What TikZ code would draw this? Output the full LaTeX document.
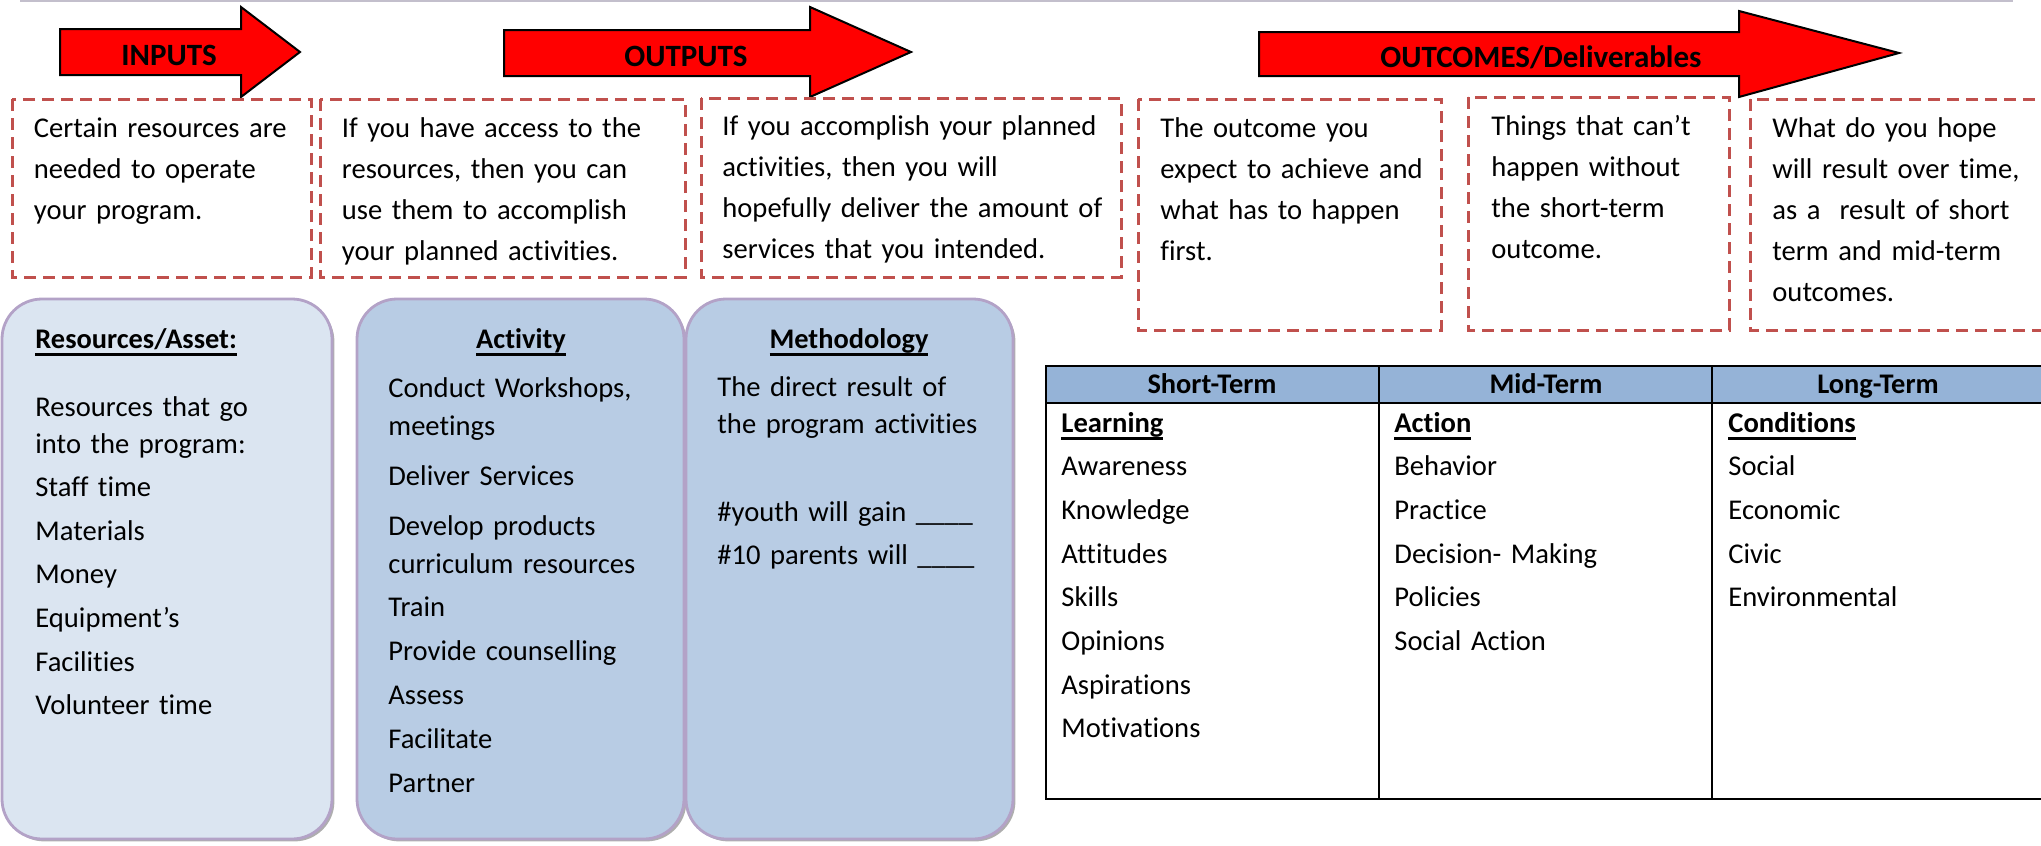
\documentclass[tikz,border=0pt]{standalone}
\usepackage{fontspec}
\setmainfont{Carlito}[Ligatures=NoCommon]
\usetikzlibrary{shadows}

\definecolor{arrowred}{HTML}{FF0000}
\definecolor{dashred}{HTML}{C0504D}
\definecolor{panelpale}{HTML}{DBE5F1}
\definecolor{panelblue}{HTML}{B8CCE4}
\definecolor{panelrim}{HTML}{B3A2C7}
\definecolor{headblue}{HTML}{95B3D7}
\definecolor{rulegray}{HTML}{C3BFCC}

\newcommand{\undl}[1]{\setbox0\hbox{#1}\leavevmode\rlap{\vrule width\wd0 height -2.6pt depth 3.8pt}\box0}

\tikzset{
  bigarrow/.style={fill=arrowred, draw=black, line width=1pt, line join=miter},
  arrowtext/.style={anchor=base, inner sep=0pt, font=\fontsize{15.5}{18}\selectfont\bfseries},
  dashbox/.style={draw=dashred, line width=1.5pt, dash pattern=on 6pt off 3.5pt},
  boxtext/.style={anchor=base west, inner sep=0pt, text width=220pt, align=left,
    font=\fontsize{14.3}{20.5}\selectfont},
  panel/.style={draw=panelrim, line width=1.4pt, rounded corners=20pt,
    drop shadow={shadow xshift=1.2pt, shadow yshift=-1.2pt, fill=black!45, opacity=0.7}},
  headtext/.style={inner sep=0pt, font=\fontsize{14.2}{17}\selectfont\bfseries},
  listtext/.style={anchor=base west, inner sep=0pt, text width=200pt, align=left,
    font=\fontsize{14.3}{#1}\selectfont},
  tablerule/.style={line width=1.3pt, line cap=rect}
}

\begin{document}
\begin{tikzpicture}[x=0.5pt, y=-0.5pt]
    \clip (0,0) rectangle (2041,846);

    % thin rule along the top
    \draw[rulegray, line width=1pt] (20,1) -- (2013,1);

    % the three red arrows
    \draw[bigarrow] (60,29) -- (241,29) -- (241,7) -- (300,52)
      -- (241,97) -- (241,75) -- (60,75) -- cycle;
    \draw[bigarrow] (504,30) -- (810,30) -- (810,7) -- (911,52)
      -- (810,97) -- (810,76) -- (504,76) -- cycle;
    \draw[bigarrow] (1259,32) -- (1739,32) -- (1739,11) -- (1899,53)
      -- (1739,97) -- (1739,76) -- (1259,76) -- cycle;

    \node[arrowtext] (inputs) at (169,65) {INPUTS};
    \node[arrowtext] (outputs) at (686,66) {OUTPUTS};
    \node[arrowtext] (outcomes) at (1541,68) {OUTCOMES/Deliverables};

    % dashed explanation boxes
    \draw[dashbox] (12,99) rectangle (311,277);
    \node[boxtext] (needs) at (33.5,137) {Certain resources are\\
      needed to operate\\ your program.};

    \draw[dashbox] (320,99) rectangle (685,277);
    \node[boxtext] (access) at (341.5,137) {If you have access to the\\
      resources, then you can\\ use them to accomplish\\ your planned activities.};

    \draw[dashbox] (701,98) rectangle (1121,277);
    \node[boxtext] (deliver) at (722,135) {If you accomplish your planned\\
      activities, then you will\\ hopefully deliver the amount of\\
      services that you intended.};

    \draw[dashbox] (1138,99) rectangle (1441,330);
    \node[boxtext] (expect) at (1160,137) {The outcome you\\
      expect to achieve and\\ what has to happen\\ first.};

    \draw[dashbox] (1468,97) rectangle (1729,330);
    \node[boxtext] (without) at (1491,135) {Things that can’t\\
      happen without\\ the short-term\\ outcome.};

    \draw[dashbox] (1750,99) rectangle (2070,330);
    \node[boxtext] (hope) at (1772,137) {What do you hope\\
      will result over time,\\ as a\ \ result of short\\
      term and mid-term\\ outcomes.};

    % rounded panels
    \draw[panel, fill=panelpale] (2,299) rectangle (332,839);
    \draw[panel, fill=panelblue] (357,299) rectangle (684,839);
    \draw[panel, fill=panelblue] (686,299) rectangle (1013,839);

    \node[headtext, anchor=base west] (reshead) at (35,348) {\undl{Resources/Asset:}};
    \node[listtext=18.5pt] (reslist) at (35,416) {Resources that go\\
      into the program:\\[3.3pt] Staff time\\[3.3pt] Materials\\[3.3pt]
      Money\\[3.3pt] Equipment’s\\[3.3pt] Facilities\\[3.3pt] Volunteer time};

    \node[headtext, anchor=base] (acthead) at (521,348) {\undl{Activity}};
    \node[listtext=19pt] (actlist) at (388,397) {Conduct Workshops,\\
      meetings\\[6pt] Deliver Services\\[6pt] Develop products\\
      curriculum resources\\[2.5pt] Train\\[3pt] Provide counselling\\[3pt]
      Assess\\[3pt] Facilitate\\[3pt] Partner};

    \node[headtext, anchor=base] (methhead) at (849,348) {\undl{Methodology}};
    \node[listtext=18.5pt] (methlist) at (717,396) {The direct result of\\
      the program activities\\[25.5pt] \#youth will gain \_\_\_\_\\[3pt]
      \#10 parents will \_\_\_\_};

    % outcome table
    \fill[headblue] (1046,366) rectangle (2060,403);
    \draw[tablerule] (1046,366) -- (2060,366);
    \draw[tablerule] (1046,403) -- (2060,403);
    \draw[tablerule] (1046,799) -- (2060,799);
    \draw[tablerule] (1046,366) -- (1046,799);
    \draw[tablerule] (1379,366) -- (1379,799);
    \draw[tablerule] (1712,366) -- (1712,799);

    \node[headtext, anchor=base] (shorthd) at (1212,393) {Short-Term};
    \node[headtext, anchor=base] (midhd) at (1546,393) {Mid-Term};
    \node[headtext, anchor=base] (longhd) at (1878,393) {Long-Term};

    \node[listtext=21.85pt] (shortcol) at (1061,432) {\undl{\textbf{Learning}}\\
      Awareness\\ Knowledge\\ Attitudes\\ Skills\\ Opinions\\ Aspirations\\ Motivations};
    \node[listtext=21.85pt] (midcol) at (1394,432) {\undl{\textbf{Action}}\\
      Behavior\\ Practice\\ Decision- Making\\ Policies\\ Social Action};
    \node[listtext=21.85pt] (longcol) at (1728,432) {\undl{\textbf{Conditions}}\\
      Social\\ Economic\\ Civic\\ Environmental};
\end{tikzpicture}
\end{document}
